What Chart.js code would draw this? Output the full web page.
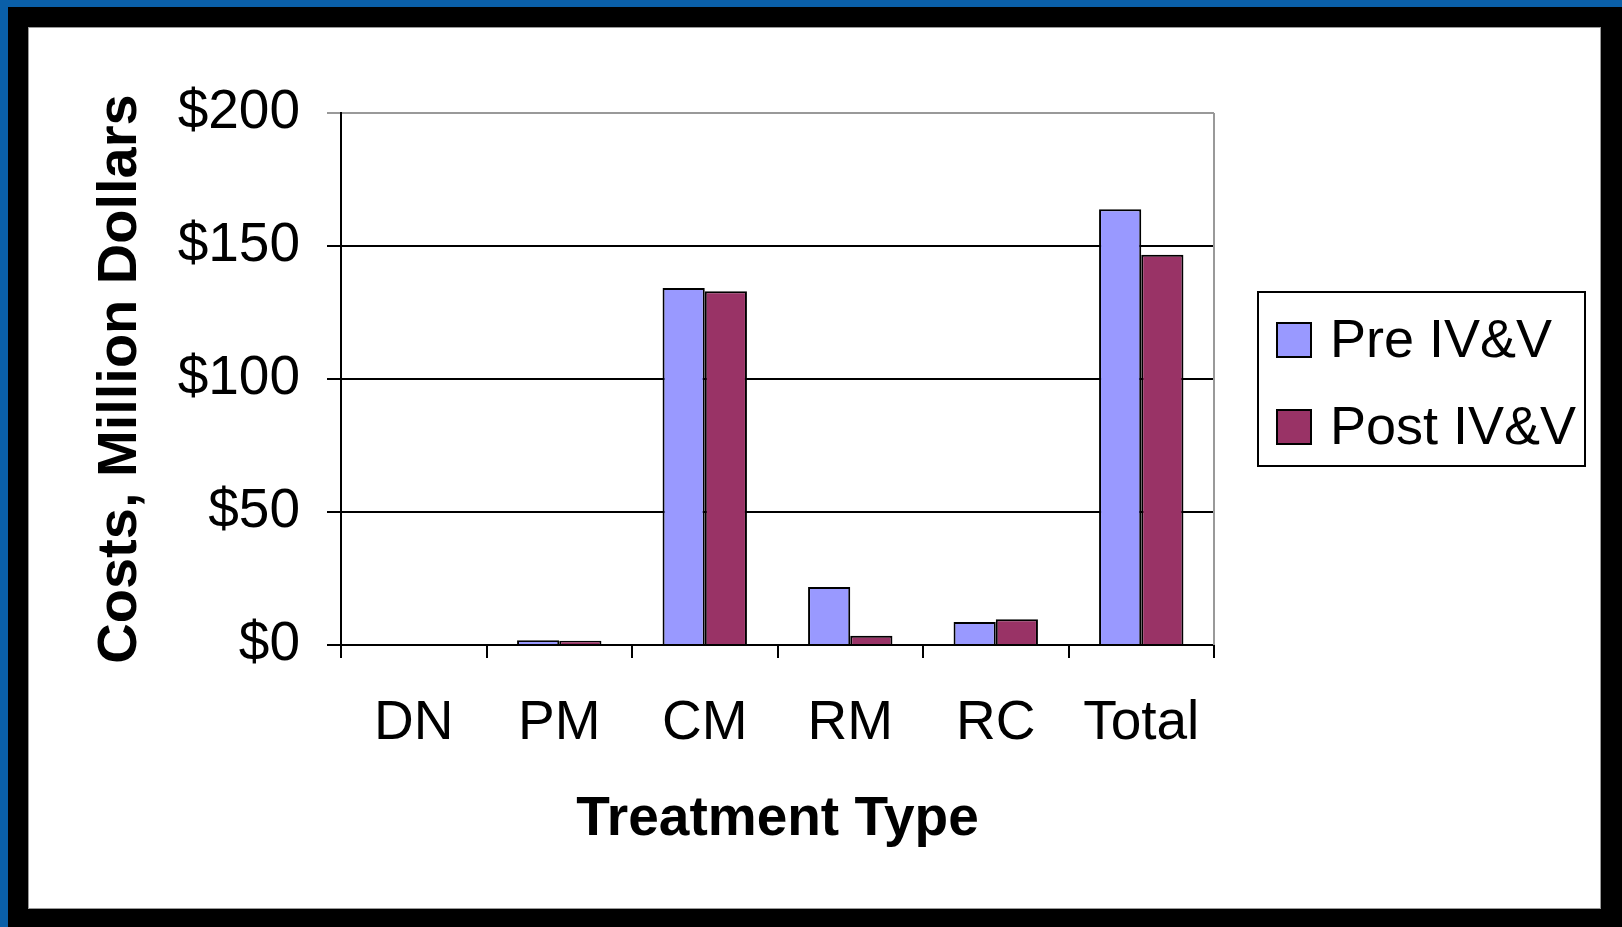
<!DOCTYPE html>
<html>
<head>
<meta charset="utf-8">
<script src="https://cdn.jsdelivr.net/npm/chart.js@4/dist/chart.umd.min.js"></script>
<style>
  html, body { margin: 0; padding: 0; background: #000; }
  #frame {
    position: absolute; left: 0; top: 0;
    width: 1622px; height: 927px;
    box-sizing: border-box;
    background: #000;
    border-left: 8px solid #0a5fa8;
    border-top: 7px solid #0a5fa8;
  }
  #panel {
    position: absolute; left: 29px; top: 28px;
    width: 1571px; height: 880px;
    background: #fff;
    box-shadow: 0 0 0 1px #999;
  }
</style>
</head>
<body>
<div id="frame"></div>
<div id="panel"><canvas id="costChart" width="1571" height="880"></canvas></div>
<script>
const categories = ['DN', 'PM', 'CM', 'RM', 'RC', 'Total'];
const preValues = [0, 1.8, 134.2, 21.8, 8.6, 163.8];
const postValues = [0, 1.6, 133.0, 3.5, 9.7, 146.7];
const seriesNames = ['Pre IV&V', 'Post IV&V'];
const seriesColors = ['#9999ff', '#993366'];
const yTicks = [0, 50, 100, 150, 200];

const FONT = '"Liberation Sans", Arial, sans-serif';

// boxed legend on the right, like the old spreadsheet chart
const boxLegend = {
  id: 'boxLegend',
  afterDraw(chart) {
    const ctx = chart.ctx;
    ctx.save();
    ctx.lineWidth = 2;
    ctx.strokeStyle = '#000';
    ctx.strokeRect(1229, 264, 327, 174);
    ctx.font = '54px ' + FONT;
    ctx.textBaseline = 'middle';
    ctx.textAlign = 'left';
    chart.data.datasets.forEach((ds, i) => {
      const y = 295 + i * 87;
      ctx.fillStyle = ds.backgroundColor;
      ctx.fillRect(1248, y, 34, 34);
      ctx.strokeRect(1248, y, 34, 34);
      ctx.fillStyle = '#000';
      ctx.fillText(ds.label, 1301, y + 19);
    });
    ctx.restore();
  }
};

// grey plot-area edge on the right
const plotEdge = {
  id: 'plotEdge',
  beforeDatasetsDraw(chart) {
    const { ctx, chartArea } = chart;
    ctx.save();
    ctx.strokeStyle = '#999';
    ctx.lineWidth = 2;
    ctx.beginPath();
    ctx.moveTo(chartArea.right, chartArea.top);
    ctx.lineTo(chartArea.right, chartArea.bottom);
    ctx.stroke();
    ctx.restore();
  }
};

const ctx = document.getElementById('costChart').getContext('2d');
new Chart(ctx, {
  type: 'bar',
  data: {
    labels: categories,
    datasets: [
      { label: seriesNames[0], data: preValues, backgroundColor: seriesColors[0], borderColor: '#000', borderWidth: 2 },
      { label: seriesNames[1], data: postValues, backgroundColor: seriesColors[1], borderColor: '#000', borderWidth: 2 },
    ],
  },
  options: {
    responsive: false,
    animation: false,
    layout: { padding: { left: 0, top: 85, right: 386, bottom: 0 } },
    datasets: { bar: { categoryPercentage: 0.58, barPercentage: 1.0 } },
    plugins: { legend: { display: false }, tooltip: { enabled: false } },
    scales: {
      x: {
        grid: { drawOnChartArea: false, drawTicks: true, offset: true, tickLength: 13, color: '#000', lineWidth: 2 },
        border: { color: '#000', width: 2 },
        ticks: { color: '#000', font: { family: FONT, size: 55 }, padding: 33 },
        title: {
          display: true, text: 'Treatment Type', color: '#000',
          font: { family: FONT, size: 55, weight: 'bold', lineHeight: 1.2 },
          padding: { top: 0, bottom: 55 },
        },
        afterFit(scale) { scale.height = 263; },
      },
      y: {
        min: 0,
        max: 200,
        afterBuildTicks(scale) { scale.ticks = yTicks.map(v => ({ value: v })); },
        grid: {
          color: c => (c.tick && c.tick.value === 200 ? '#999' : '#000'),
          lineWidth: 2,
          tickLength: 14,
        },
        border: { color: '#000', width: 2 },
        ticks: {
          color: '#000', font: { family: FONT, size: 55 }, padding: 27,
          callback: v => '$' + v,
        },
        title: {
          display: true, text: 'Costs, Million Dollars', color: '#000',
          font: { family: FONT, size: 56, weight: 'bold', lineHeight: 1.2 },
          padding: { top: 58, bottom: 0 },
        },
        afterFit(scale) { scale.width = 312; },
      },
    },
  },
  plugins: [plotEdge, boxLegend],
});
</script>
</body>
</html>
